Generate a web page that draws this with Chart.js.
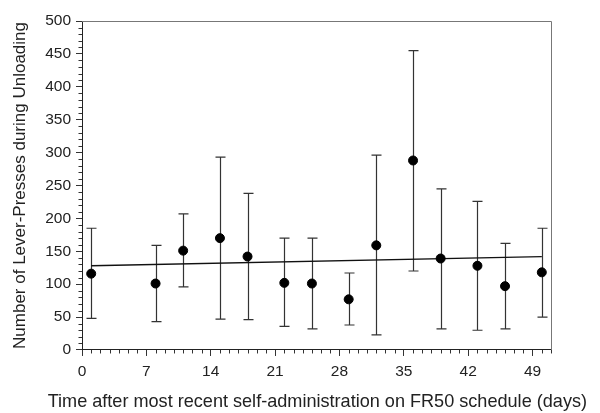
<!DOCTYPE html>
<html>
<head>
<meta charset="utf-8">
<script src="https://cdn.jsdelivr.net/npm/chart.js@4.4.1/dist/chart.umd.min.js"></script>
<style>
html, body { margin: 0; padding: 0; background: #fff; }
#wrap { width: 600px; height: 413px; }
</style>
</head>
<body>
<div id="wrap"><canvas id="chart" width="600" height="413"></canvas></div>
<script>
// days after last self-administration
const days = [1, 8, 11, 15, 18, 22, 25, 29, 32, 36, 39, 43, 46, 50];
const means = [116, 101, 151, 170, 142, 102, 101, 77, 159, 288, 139, 128, 97, 118];
const lows = [48, 43, 96, 47, 46, 36, 32, 38, 23, 120, 32, 30, 32, 50];
const highs = [185, 159, 207, 293, 238, 170, 170, 117, 296, 455, 245, 226, 162, 185];

// fitted line end points
const regX = [1, 50];
const regY = [128, 142];

const xTicks = [0, 7, 14, 21, 28, 35, 42, 49];
const yTicks = [0, 50, 100, 150, 200, 250, 300, 350, 400, 450, 500];

const textColor = "#222";
const family = "'Liberation Sans', Arial, sans-serif";
const tickFont = { family: family, size: 15.5 };

// error bars, minor ticks and the top/right frame
const extras = {
  id: "extras",
  beforeDatasetsDraw(chart) {
    const ctx = chart.ctx;
    const xs = chart.scales.x, ys = chart.scales.y;
    const a = chart.chartArea;
    ctx.save();
    ctx.strokeStyle = "#333";
    ctx.lineWidth = 1.2;
    for (let i = 0; i < days.length; i++) {
      const px = Math.round(xs.getPixelForValue(days[i])) + 0.5;
      const lo = ys.getPixelForValue(lows[i]);
      const hi = ys.getPixelForValue(highs[i]);
      ctx.beginPath();
      ctx.moveTo(px, lo); ctx.lineTo(px, hi);
      ctx.moveTo(px - 5, lo); ctx.lineTo(px + 5, lo);
      ctx.moveTo(px - 5, hi); ctx.lineTo(px + 5, hi);
      ctx.stroke();
    }
    // frame top and right
    ctx.strokeStyle = "#777";
    ctx.lineWidth = 1;
    ctx.beginPath();
    ctx.moveTo(a.left, a.top + 0.5); ctx.lineTo(a.right + 0.5, a.top + 0.5);
    ctx.lineTo(a.right + 0.5, a.bottom);
    ctx.stroke();
    // minor ticks
    ctx.strokeStyle = "#333";
    ctx.beginPath();
    for (let d = 1; d <= 51; d++) {
      if (d % 7 === 0) continue;
      const px = Math.round(xs.getPixelForValue(d)) + 0.5;
      ctx.moveTo(px, a.bottom); ctx.lineTo(px, a.bottom + 3.5);
    }
    for (let v = 10; v < 500; v += 10) {
      if (v % 50 === 0) continue;
      const py = Math.round(ys.getPixelForValue(v)) + 0.5;
      ctx.moveTo(a.left, py); ctx.lineTo(a.left - 3.5, py);
    }
    ctx.stroke();
    ctx.restore();
  }
};

new Chart(document.getElementById("chart"), {
  type: "scatter",
  data: {
    datasets: [{
      label: "Lever-presses",
      data: days.map((d, i) => ({ x: d, y: means[i] })),
      backgroundColor: "#000",
      borderColor: "#000",
      pointRadius: 4.5,
      pointHoverRadius: 4.5
    }, {
      label: "Fit",
      type: "line",
      data: regX.map((x, i) => ({ x: x, y: regY[i] })),
      borderColor: "#111",
      borderWidth: 1.3,
      pointRadius: 0,
      fill: false
    }]
  },
  options: {
    responsive: false,
    animation: false,
    layout: { padding: { top: 21, right: 13, left: 0, bottom: 0 } },
    plugins: {
      legend: { display: false },
      tooltip: { enabled: false },
      // x axis title drawn as a bottom title so it can run wider than the plot
      title: {
        display: true,
        position: "bottom",
        align: "end",
        text: "Time after most recent self-administration on FR50 schedule (days)",
        color: textColor,
        font: { family: family, size: 18.1, weight: "normal", lineHeight: 1.2 },
        padding: { top: 4, bottom: 0 }
      }
    },
    scales: {
      x: {
        type: "linear",
        min: 0,
        max: 51,
        afterBuildTicks: s => { s.ticks = xTicks.map(v => ({ value: v })); },
        afterFit: s => { s.height = 63 - 4 - 21.7; },
        grid: { drawOnChartArea: false, tickLength: 6, color: "#333" },
        border: { color: "#222", width: 1 },
        ticks: { color: textColor, font: tickFont, padding: 6, maxRotation: 0 }
      },
      y: {
        min: 0,
        max: 500,
        afterBuildTicks: s => { s.ticks = yTicks.map(v => ({ value: v })); },
        afterFit: s => { s.width = 82; },
        grid: { drawOnChartArea: false, tickLength: 6, color: "#333" },
        border: { color: "#222", width: 1 },
        ticks: { color: textColor, font: tickFont, padding: 5 },
        title: { display: true, text: "Number of Lever-Presses during Unloading", color: textColor, font: { family: family, size: 17 }, padding: { top: 10, bottom: 4 } }
      },
      // empty right-hand spacer so the plot ends before the title does
      yRight: {
        position: "right",
        min: 0,
        max: 500,
        grid: { display: false },
        border: { display: false },
        ticks: { display: false },
        afterFit: s => { s.width = 36; }
      }
    }
  },
  plugins: [extras]
});
</script>
</body>
</html>
